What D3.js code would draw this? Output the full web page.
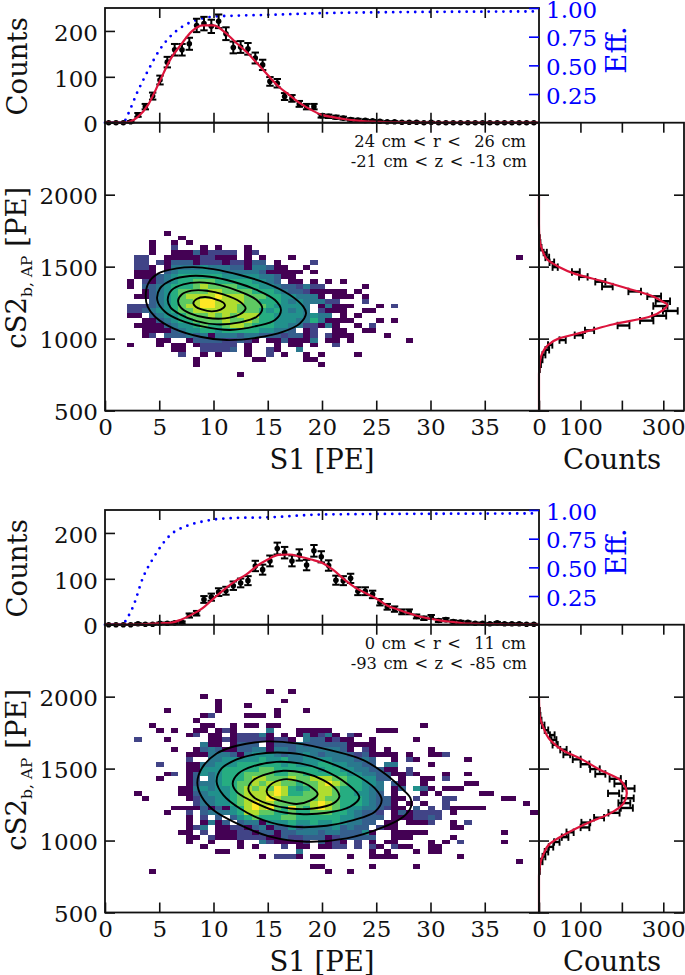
<!DOCTYPE html>
<html><head><meta charset="utf-8">
<script src="https://cdn.jsdelivr.net/npm/d3@7"></script>
<style>html,body{margin:0;padding:0;background:#fff}svg{display:block}text{font-family:"DejaVu Serif",serif;fill:#111}</style>
</head><body><svg id="c" width="685" height="975"></svg>
<script>
// ---------- data ----------
const s1Ticks=[0,5,10,15,20,25,30,35];
const qTicks=[500,1000,1500,2000];
const countTicks=[0,100,200];
const effTicks=[0.25,0.5,0.75,1];
const sideTicks=[0,100,200,300];
const sideLabels=[0,100,300];
const binS1=40/59.2, binQ=2000/59.2;
const noteA=["24 cm < r <  26 cm","-21 cm < z < -13 cm"];
const noteB=["0 cm < r <  11 cm","-93 cm < z < -85 cm"];

const histA=[0,0,0,2,17,35,58,93,132,159,159,172,212,216,210,221,194,164,165,161,141,126,90,86,57,53,41,35,35,15,14,12,10,7,6,5,4,3,2,2,1,1,1,0,1,0,0,0,0,0,0,0,0,0,0,0,0,0,0];
const histB=[0,0,0,0,2,1,1,3,3,4,5,20,25,55,60,71,74,85,91,96,128,120,139,166,157,139,152,130,161,148,129,97,96,101,73,73,66,49,39,34,28,28,18,14,17,9,11,7,6,5,3,3,2,4,2,2,2,1,1];
const fitS1A=[0,1,1.8,3,4,5,6,7,8,9,10,11,12,13,14,15,16,17,18,19,20,21,22,23,24,25,26,27,28,40];
const fitCA=[0,0,0,12,40,88,137,170,199,212,212,198,176,155,130,104,79,60,42,28,17,12,8,5,3,2,1,1,0,0];
const fitS1B=[0,3,5,6,7,8,9,10,11,12,13,14,15,16,17,18,19,20,21,22,23,24,25,26,27,28,29,30,31,32,33,34,35,36,37,40];
const fitCB=[0,0,3,4,11,22,36,57,77,95,109,128,142,152,153,148,142,135,120,100,82,69,57,42,33,25,18,13,9,6,3,2,1,1,0,0];
const effS1A=[0,1.7,2,3,4,5,6,7,8,9,10,12,15,20,25,30,40];
const effVA=[0,0,0.05,0.27,0.46,0.63,0.75,0.83,0.88,0.91,0.925,0.933,0.94,0.955,0.962,0.966,0.97];
const effS1B=[0,1.6,2,2.6,3.5,4.45,6,7.5,9,11.8,15,19.8,25,30,40];
const effVB=[0,0,0.05,0.16,0.41,0.58,0.78,0.86,0.90,0.93,0.936,0.96,0.965,0.967,0.97];

const sideA=[0,0,0,0,0,0,0,0,1,3,6,12,20,27,57,96,122,204,260,290,317,293,299,278,231,165,148,107,89,39,31,20,15,4,2,1];
const sideB=[0,0,0,0,0,0,0,0,1,1,6,12,18,29,43,63,75,111,113,145,181,212,206,214,180,216,196,184,148,135,111,91,67,59,39,36,32,18,10,4,2,1];
const sideFitQA=[500,750,800,850,900,950,1000,1050,1100,1150,1200,1233,1260,1300,1350,1400,1450,1500,1550,1600,1650,1700,1800,2000];
const sideFitCA=[0,0,1,3,8,20,47,115,180,265,300,310,297,270,212,152,87,47,20,10,4,1,0,0];
const sideFitQB=[500,750,800,841,899,980,1038,1119,1189,1258,1328,1420,1490,1571,1624,1698,1790,1883,2000];
const sideFitCB=[0,0,1,3,10,27,59,115,172,204,212,196,148,99,59,27,10,1,0];

const contoursA=[
[[3.75,1291],[3.99,1384],[4.92,1453],[6.61,1488],[8.14,1497],[9.98,1483],[12.44,1442],[14.9,1384],[17.05,1303],[18.28,1222],[18.53,1176],[17.97,1106],[16.44,1048],[13.98,1006],[11.21,990],[8.76,1013],[6.3,1071],[4.61,1152],[3.93,1222]],
[[4.82,1268],[5.07,1349],[6.14,1407],[7.83,1435],[9.68,1430],[11.83,1395],[13.98,1338],[15.67,1268],[16.22,1199],[15.67,1129],[13.98,1088],[11.52,1060],[9.06,1083],[6.91,1129],[5.53,1187]],
[[5.78,1268],[6.14,1337],[7.22,1377],[8.76,1391],[10.6,1372],[12.44,1326],[13.98,1268],[14.5,1210],[13.98,1152],[12.44,1113],[10.29,1099],[8.45,1122],[6.91,1169],[6.05,1215]],
[[6.73,1261],[7.07,1307],[7.99,1333],[9.37,1333],[10.91,1307],[12.44,1256],[12.96,1210],[12.44,1169],[11.06,1141],[9.37,1145],[7.83,1176],[7.0,1215]],
[[8.14,1245],[8.45,1275],[9.22,1289],[10.14,1275],[10.91,1250],[11.06,1229],[10.66,1201],[9.83,1189],[8.91,1203],[8.36,1222]]
];
const contoursB=[
[[8.51,1402],[8.91,1501],[10.29,1605],[12.14,1659],[14.9,1689],[17.67,1675],[20.74,1628],[23.81,1559],[25.96,1455],[27.5,1351],[28.15,1295],[28.2,1235],[27.5,1166],[25.35,1084],[22.27,1015],[18.59,992],[15.21,1027],[12.14,1119],[9.98,1212],[8.91,1304]],
[[10.29,1409],[10.75,1501],[12.14,1564],[13.98,1601],[15.82,1612],[17.97,1601],[20.43,1547],[22.89,1466],[24.88,1362],[25.5,1281],[24.88,1200],[22.89,1142],[20.43,1103],[17.36,1096],[14.59,1142],[12.44,1223],[10.91,1316]],
[[11.77,1397],[12.29,1466],[13.67,1517],[15.82,1547],[17.97,1536],[20.12,1490],[22.27,1397],[23.44,1300],[22.58,1235],[20.43,1193],[17.97,1184],[15.51,1212],[13.36,1281],[12.14,1339]],
[[13.21,1362],[13.67,1420],[14.9,1462],[16.44,1485],[18.28,1471],[20.12,1420],[21.35,1351],[21.6,1305],[21.05,1258],[19.2,1223],[17.05,1223],[14.9,1258],[13.67,1304]],
[[14.9,1339],[15.21,1385],[16.44,1425],[17.67,1416],[19.05,1369],[19.6,1323],[18.9,1277],[17.67,1254],[16.13,1277],[15.21,1304]]
];

// rows from top to bottom; one char per bin: '.' empty, digit = colour level
const heatTopA=36;
const heatA=[
"........0.",
".......... 0",
"......0..0 .0",
"......0..2 ...0.0...0",
"......0..0 00302222.0 2",
"....22..00 00022000.0 .0...0.... .......... .......... ......0",
"....22.203 3302220220 33.0....2.",
"....220.04 4445444330 44300..0..",
"....000.34 5555554444 4300000.0.",
"....000345 6666665555 544300....",
"...0.20345 6677766666 5543.00.0. 0.0",
"...0.33456 6678777766 6554332422 .....0",
".....03456 7777887777 6665433200 000.0",
"....003456 7888898887 7766554440 .000.0",
"......3456 7789988887 7666545444 22...2",
"...2223456 7889988877 77655554.0 4000...0.2",
"...2234556 7788888877 76565454.2 000..00",
"...00.3455 6777878788 8665555454 4.0.0",
".....00345 6677778778 7665554464 0000...0.0",
"....000034 5567667887 6665544220 40..0.2",
".....00003 4556656666 655443.02. .00..00",
".....02.33 3434044434 433323302. 2000....0",
".......00. .033332232 0.0030004. 00.0...... .0",
"...0...0.0 0.022222.0 ...0.00.0. .2",
".........0 0..22223.0 ..20..4",
".......... 2..0.0...0 ..2.0..0.0 ....0",
".......... ..0....... 00.....00.",
".......... ..0....... .........0",
"",
".......... ........0."
];
const heatTopB=45;
const heatB=[
".......... .......... ..0..0",
".......... ...0",
".......... .....0.... ....0",
".......... .....0...0",
"........0. .....0.... ...0...0",
".......... ...02....0 00.0",
".......... ..0",
"......0... ...00..0.0 0.00...... .......... ...0",
".......0.0 ..00.020.. ..4...0000 0......000",
".......... .02.00.022 240.0.0402 40.20",
"....2...0. ....002022 220220.433 0200..0... ..0",
".......... ...400.033 3.03334333 3330000",
".........0 ..03430033 4404434444 4430.20.0. ....0",
".......... .000444304 5554344543 4443230000 .0..002",
".......... .2..445555 5655644555 5444343..0 .20......0",
".......2.. .004455566 6666565556 6554433.44 ....0",
".......... .005556666 6776666665 6655443300 .2",
"........02 .035456667 7776677666 6665544330 020...0..0",
".......0.. .03.456667 8877787788 877665533. 0..00.2",
".......... .034456677 8788776778 98766554.3 0..0.....0 0",
".......... 0045455678 7879865678 87666544.0 3.530.000.",
"....0..... 0034555678 8889866778 87665543.0 ...0.0.... .00",
".....0.... .024455678 8898777778 7766654330 0.2...22.. ....00",
".......... ..24455678 9887777789 8766654330 .0.0..2... .......0",
".........0 0003030568 9897697689 8765544320 0.3.2.2000 00",
"........0. .2.3444568 8776676677 76654332.0 302222.0.. ........0",
".......... .0.2.3.356 7666776666 66554333.0 002232",
".......... .0.0403.34 4055565565 5654433.00 .0002..0.2",
".......... .024.00220 3403353444 453433.200 .......00",
".......... 00.2.00022 0330334443 4433350..0 0000...... ....0",
".......... .00.200022 2200322333 0233333..0 00.....0",
".......... .0..0...0. .4200002.3 020.2.0.00 ....0.0.2. ....0",
".......... ...0....0. 0...2.00.0 022.2.20.2 00..00",
".......... .....00... ......4... ......0.0. ..0.00",
".......... .......... .0.2220.00 ...0..0000 ........0",
".......... .......... .......... .......... .......... ......0",
".......... .......... ........00 ......0... ..0",
"......0... .......... .......... 0..0"
];

// ---------- drawing ----------
const svg=d3.select("#c");
const RED="#dc143c",BLUE="#0000ff";
const L=105,M=539,R=684;
const levelT=[0,.1,.2,.3,.4,.5,.62,.75,.88,1];

function panel(o){
  const x=d3.scaleLinear().domain([0,40]).range([L,M]);
  const yH=d3.scaleLinear().domain([0,250]).range([o.mid,o.top]);
  const yE=d3.scaleLinear().domain([0,1]).range([o.mid,o.top]);
  const yM=d3.scaleLinear().domain([500,2500]).range([o.bot,o.mid]);
  const xS=d3.scaleLinear().domain([0,350]).range([M,R]);
  const g=svg.append("g");

  // heat map
  const cells=[];
  o.heat.forEach((row,r)=>{row.replace(/ /g,"").split("").forEach((c,i)=>{
    if(c!==".")cells.push({i,j:o.heatTop-r,v:+c});});});
  g.append("g").attr("shape-rendering","crispEdges").selectAll("rect").data(cells).join("rect")
    .attr("x",d=>x(d.i*binS1)).attr("width",d=>x((d.i+1)*binS1)-x(d.i*binS1))
    .attr("y",d=>yM(500+(d.j+1)*binQ)).attr("height",d=>yM(500+d.j*binQ)-yM(500+(d.j+1)*binQ))
    .attr("fill",d=>d3.interpolateViridis(levelT[d.v]));

  // contours
  const ring=d3.line().x(d=>x(d[0])).y(d=>yM(d[1])).curve(d3.curveCatmullRomClosed.alpha(0.5));
  g.append("g").selectAll("path").data(o.contours).join("path").attr("d",ring)
    .attr("fill","none").attr("stroke","#000").attr("stroke-width",1.9);

  // efficiency
  const effData=o.effS.map((s,i)=>[s,o.effV[i]]);
  g.append("path").datum(effData).attr("fill","none").attr("stroke",BLUE).attr("stroke-width",2.8)
    .attr("stroke-linecap","round").attr("stroke-dasharray","0 7.35")
    .attr("d",d3.line().x(d=>x(d[0])).y(d=>yE(d[1])).curve(d3.curveMonotoneX));

  // top histogram points
  const pts=o.hist.map((c,i)=>({s:(i+.5)*binS1,c,e:Math.sqrt(c)}));
  const pg=g.append("g").attr("stroke","#000").attr("stroke-width",2);
  pg.selectAll("line.e").data(pts).join("line").attr("class","e")
    .attr("x1",d=>x(d.s)).attr("x2",d=>x(d.s)).attr("y1",d=>yH(d.c-d.e)).attr("y2",d=>yH(d.c+d.e));
  [-1,1].forEach(k=>pg.selectAll("line.c"+k).data(pts.filter(d=>d.c>0)).join("line").attr("class","c"+k)
    .attr("x1",d=>x(d.s)-3.7).attr("x2",d=>x(d.s)+3.7).attr("y1",d=>yH(d.c+k*d.e)).attr("y2",d=>yH(d.c+k*d.e)));
  g.append("g").selectAll("circle").data(pts).join("circle")
    .attr("cx",d=>x(d.s)).attr("cy",d=>yH(d.c)).attr("r",2.8).attr("fill","#000");
  const fitData=o.fitS.map((s,i)=>[s,o.fitC[i]]);
  g.append("path").datum(fitData).attr("fill","none").attr("stroke",RED).attr("stroke-width",2.2)
    .attr("d",d3.line().x(d=>x(d[0])).y(d=>yH(d[1])).curve(d3.curveMonotoneX));

  // side histogram
  const sp=o.side.map((c,j)=>({q:500+(j+.5)*binQ,c,e:Math.sqrt(c)})).filter(d=>d.c>0);
  const sg=g.append("g").attr("stroke","#000").attr("stroke-width",2.4);
  sg.selectAll("line.e").data(sp).join("line").attr("class","e")
    .attr("y1",d=>yM(d.q)).attr("y2",d=>yM(d.q)).attr("x1",d=>xS(d.c-d.e)).attr("x2",d=>xS(d.c+d.e));
  [-1,1].forEach(k=>sg.selectAll("line.c"+k).data(sp).join("line").attr("class","c"+k)
    .attr("stroke-width",1.9)
    .attr("y1",d=>yM(d.q)-3.7).attr("y2",d=>yM(d.q)+3.7).attr("x1",d=>xS(d.c+k*d.e)).attr("x2",d=>xS(d.c+k*d.e)));
  const sf=o.sideFitQ.map((q,i)=>[q,o.sideFitC[i]]);
  g.append("path").datum(sf).attr("fill","none").attr("stroke",RED).attr("stroke-width",2.2)
    .attr("d",d3.line().x(d=>xS(d[1])).y(d=>yM(d[0])).curve(d3.curveMonotoneY));

  // frames
  [[L,o.top,M,o.mid],[L,o.mid,M,o.bot],[M,o.mid,R,o.bot]].forEach(b=>
    g.append("rect").attr("x",b[0]).attr("y",b[1]).attr("width",b[2]-b[0]).attr("height",b[3]-b[1])
     .attr("fill","none").attr("stroke","#111").attr("stroke-width",1.8));

  // axes
  const FS=23;
  function ax(sel,color){
    sel.call(s=>s.select(".domain").remove());
    sel.selectAll(".tick line").attr("stroke",color||"#111").attr("stroke-width",1.6);
    sel.selectAll(".tick text").style("font-family",'"DejaVu Serif",serif').style("font-size",FS+"px").style("fill",color||"#111");
    return sel;
  }
  const put=(axis,tx,ty,c)=>ax(g.append("g").attr("transform",`translate(${tx},${ty})`).call(axis),c);
  const blank=()=>"";
  const plain=d3.format("d");
  const nudge=s=>s.selectAll(".tick text").attr("dy","0.40em");
  nudge(put(d3.axisLeft(yH).tickValues(countTicks).tickSizeInner(-10).tickSizeOuter(0).tickPadding(7).tickFormat(plain),L,0));
  put(d3.axisBottom(x).tickValues(s1Ticks.slice(1)).tickSizeInner(-10).tickSizeOuter(0).tickFormat(blank),0,o.mid);
  put(d3.axisTop(x).tickValues(s1Ticks.slice(1)).tickSizeInner(-10).tickSizeOuter(0).tickFormat(blank),0,o.top);
  nudge(put(d3.axisRight(yE).tickValues(effTicks).tickSizeInner(-10).tickSizeOuter(0).tickPadding(7).tickFormat(d3.format(".2f")),M,0,BLUE));
  nudge(put(d3.axisLeft(yM).tickValues(qTicks).tickSizeInner(-10).tickSizeOuter(0).tickPadding(7).tickFormat(plain),L,0));
  put(d3.axisRight(yM).tickValues(qTicks).tickSizeInner(-10).tickSizeOuter(0).tickFormat(blank),M,0);
  put(d3.axisLeft(yM).tickValues(qTicks).tickSizeInner(-10).tickSizeOuter(0).tickFormat(blank),M,0);
  put(d3.axisRight(yM).tickValues(qTicks).tickSizeInner(-10).tickSizeOuter(0).tickFormat(blank),R,0);
  put(d3.axisBottom(x).tickValues(s1Ticks).tickSizeInner(-10).tickSizeOuter(0).tickPadding(8).tickFormat(plain),0,o.bot);
  put(d3.axisTop(x).tickValues(s1Ticks.slice(1)).tickSizeInner(-10).tickSizeOuter(0).tickFormat(blank),0,o.mid);
  put(d3.axisBottom(xS).tickValues(sideTicks).tickSizeInner(-10).tickSizeOuter(0).tickPadding(8)
      .tickFormat(d=>sideLabels.includes(d)?d:""),0,o.bot);
  put(d3.axisTop(xS).tickValues(sideTicks.slice(1)).tickSizeInner(-10).tickSizeOuter(0).tickFormat(blank),0,o.mid);

  // labels
  const T=(txt,tx,ty,size,anchor)=>g.append("text").text(txt).attr("x",tx).attr("y",ty)
     .attr("text-anchor",anchor||"middle").style("font-size",size+"px");
  T("S1 [PE]",322,o.bot+58,27.5);
  T("Counts",612,o.bot+58,27.5);
  g.append("text").text("Counts").attr("transform",`translate(27,${(o.top+o.mid)/2+1}) rotate(-90)`)
    .attr("text-anchor","middle").style("font-size","27.5px");
  g.append("text").text("Eff.").attr("transform",`translate(626,${o.top+42}) rotate(-90)`)
    .attr("text-anchor","middle").style("font-size","27.5px").style("fill",BLUE);
  const yl=g.append("text").attr("transform",`translate(26,${o.mid+145}) rotate(-90)`)
    .attr("text-anchor","middle").style("font-size","27.5px");
  yl.append("tspan").text("cS2");
  yl.append("tspan").text("b, AP").attr("dy",6).style("font-size","15.5px");
  yl.append("tspan").text(" [PE]").attr("dy",-6).style("white-space","pre");
  T(o.note[0],526,o.mid+24,16.3,"end").style("white-space","pre").style("word-spacing","1.4px");
  T(o.note[1],527,o.mid+44,16.3,"end").style("white-space","pre").style("word-spacing","1.3px");
}

panel({top:8,mid:122.7,bot:410.6,heat:heatA,heatTop:heatTopA,contours:contoursA,hist:histA,fitS:fitS1A,fitC:fitCA,
  effS:effS1A,effV:effVA,side:sideA,sideFitQ:sideFitQA,sideFitC:sideFitCA,note:noteA});
panel({top:510,mid:624.7,bot:912.5,heat:heatB,heatTop:heatTopB,contours:contoursB,hist:histB,fitS:fitS1B,fitC:fitCB,
  effS:effS1B,effV:effVB,side:sideB,sideFitQ:sideFitQB,sideFitC:sideFitCB,note:noteB});
</script></body></html>
